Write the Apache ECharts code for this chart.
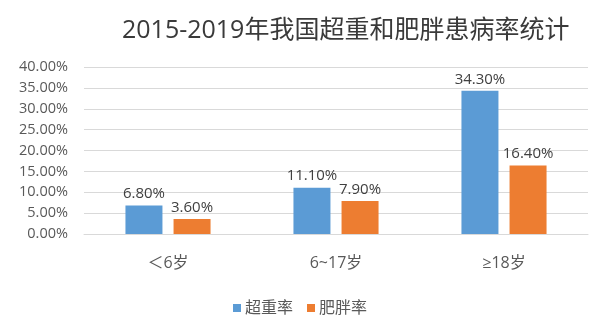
<!DOCTYPE html>
<html><head><meta charset="utf-8">
<script src="https://cdn.jsdelivr.net/npm/echarts@6/dist/echarts.min.js"></script>
<style>html,body{margin:0;padding:0;background:#fff}#c{width:600px;height:326px}</style>
</head><body><div id="c"></div>
<script>
const categories = ['＜6岁', '6~17岁', '≥18岁'];
const overweight = [6.8, 11.1, 34.3];
const obesity = [3.6, 7.9, 16.4];
const seriesNames = ['超重率', '肥胖率'];
const chart = echarts.init(document.getElementById('c'));
const font = '"Open Sans", "Noto Sans CJK SC", sans-serif';
const lbl = {show: true, position: 'top', distance: 4, color: '#404040', fontSize: 15, fontFamily: font,
  formatter: p => p.value.toFixed(2) + '%'};
chart.setOption({
  animation: false,
  title: {text: '2015-2019年我国超重和肥胖患病率统计', left: 117, top: 13,
    textStyle: {fontSize: 25, fontWeight: 'normal', color: '#3a3a3a', fontFamily: font}},
  legend: {bottom: 5, left: 'center', itemWidth: 8, itemHeight: 8, itemGap: 14, icon: 'rect',
    textStyle: {fontSize: 16, color: '#595959', fontFamily: font, padding: [0, 0, 0, -1]}},
  grid: {left: 84, right: 12, top: 67, bottom: 92},
  xAxis: {type: 'category', data: categories,
    axisLine: {lineStyle: {color: '#d9d9d9'}}, axisTick: {show: false},
    axisLabel: {fontSize: 16, color: '#595959', margin: 21, fontFamily: font}},
  yAxis: {type: 'value', min: 0, max: 40, interval: 5,
    axisLabel: {formatter: v => v.toFixed(2) + '%', fontSize: 14.5, color: '#595959', margin: 16, fontFamily: font},
    splitLine: {lineStyle: {color: '#d9d9d9'}}},
  series: [
    {name: seriesNames[0], type: 'bar', data: overweight, barWidth: 37, barGap: '30%',
      itemStyle: {color: '#5b9bd5'}, label: lbl},
    {name: seriesNames[1], type: 'bar', data: obesity, barWidth: 37,
      itemStyle: {color: '#ed7d31'}, label: lbl}
  ]
});
</script></body></html>
